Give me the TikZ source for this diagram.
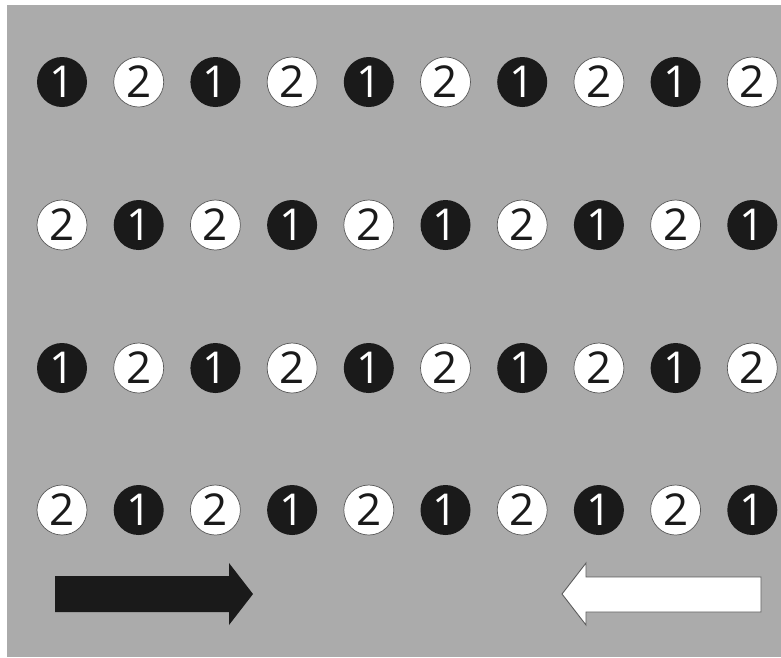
\documentclass[tikz,border=0pt]{standalone}
\usepackage{fontspec}
\setmainfont{Open Sans}
\definecolor{Board}{HTML}{ABABAB}
\definecolor{Dark}{HTML}{1A1A1A}
\definecolor{Rim}{HTML}{5A5A5A}
\tikzset{
  disc/.style={circle,minimum size=10mm,inner sep=0pt,
    font=\fontsize{25}{25}\selectfont},
  one/.style={disc,fill=Dark,text=white},
  two/.style={disc,fill=white,draw=Rim,line width=0.4pt,text=Dark},
}
\begin{document}
\begin{tikzpicture}[x=0.2mm,y=-0.2mm]
  \useasboundingbox (0,0) rectangle (781,657);
  \fill[white] (0,0) rectangle (781,657);
  \fill[Board] (7,5) rectangle (781,657);

  % four rows of ten discs, alternating
  \foreach \r/\y/\s in {1/82/0,2/225/1,3/368/0,4/510/1}{
    \foreach \c in {1,...,10}{
      \pgfmathtruncatemacro{\k}{mod(\c+\s+1,2)}
      \ifnum\k=0
        \node[one] (d-\r-\c) at ({62+(\c-1)*76.7},\y) {1};
      \else
        \node[two] (d-\r-\c) at ({62+(\c-1)*76.7},\y) {2};
      \fi
    }
  }

  % direction arrows
  \fill[Dark] (55,576) -- (229,576) -- (229,563) -- (253,594)
    -- (229,625) -- (229,612) -- (55,612) -- cycle;
  \filldraw[fill=white,draw=Rim,line width=0.5pt] (761,577) -- (586,577)
    -- (586,563) -- (562,594) -- (586,625) -- (586,612) -- (761,612) -- cycle;
\end{tikzpicture}
\end{document}
